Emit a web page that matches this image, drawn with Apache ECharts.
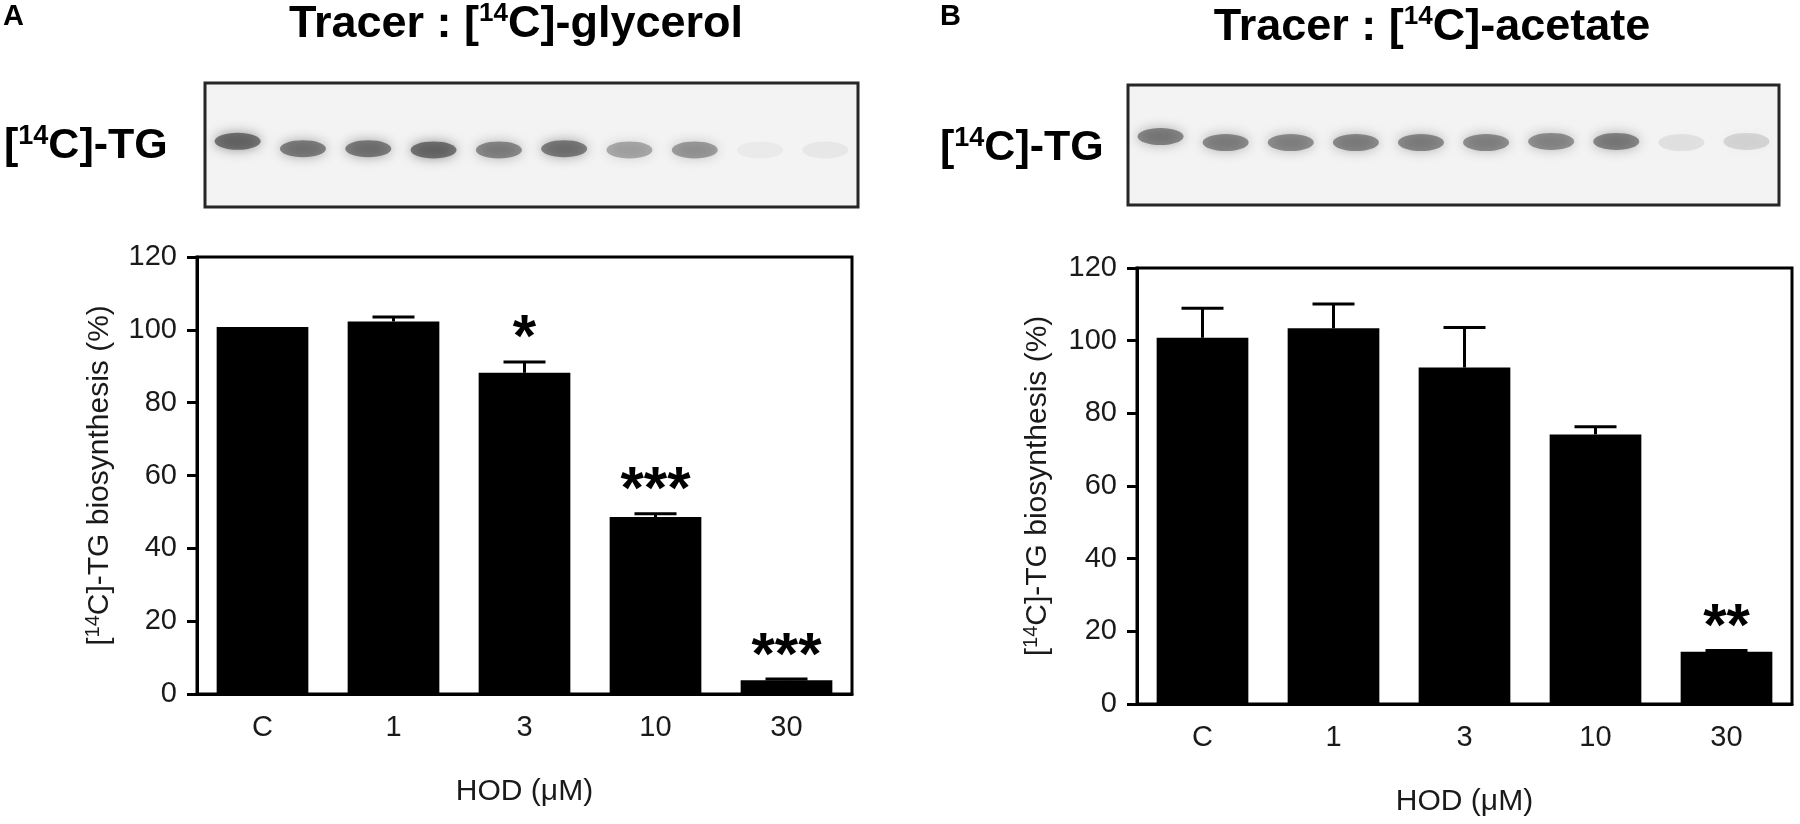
<!DOCTYPE html>
<html>
<head>
<meta charset="utf-8">
<script src="https://cdn.jsdelivr.net/npm/echarts@6/dist/echarts.min.js"></script>
<style>
  html, body { margin: 0; background: #fff; }
  #main { width: 1800px; height: 824px; }
</style>
</head>
<body>
<div id="main"></div>
<script>
// bar values (% of control)
const categories = ['C', '1', '3', '10', '30']
const glycerolMean = [100.8, 102.3, 88.2, 48.6, 3.8]
const glycerolErr = [0, 1.2, 3.0, 0.9, 0.3]
const glycerolSig = ['', '', '*', '***', '***']
const acetateMean = [100.8, 103.4, 92.6, 74.2, 14.4]
const acetateErr = [8.1, 6.7, 11.0, 2.1, 0.3]
const acetateSig = ['', '', '', '', '**']

// TLC lanes: band darkness (0-1) and migration position (0 = top of plate)
const lanes = [1, 2, 3, 4, 5, 6, 7, 8, 9, 10]
const glycerolBand = [0.8, 0.72, 0.74, 0.8, 0.66, 0.74, 0.46, 0.54, 0.06, 0.08]
const glycerolBandPos = [0.47, 0.53, 0.53, 0.54, 0.54, 0.53, 0.54, 0.54, 0.54, 0.54]
const acetateBand = [0.68, 0.66, 0.64, 0.66, 0.66, 0.64, 0.62, 0.68, 0.12, 0.2]
const acetateBandPos = [0.43, 0.48, 0.48, 0.48, 0.48, 0.48, 0.47, 0.47, 0.48, 0.47]

const FONT = 'Liberation Sans, Arial, sans-serif'

const chart = echarts.init(document.getElementById('main'))

function categoryAxis(idx) {
  return {
    gridIndex: idx,
    type: 'category',
    data: categories,
    axisLine: { lineStyle: { color: '#000', width: 3 } },
    axisTick: { alignWithLabel: true, length: 12, lineStyle: { color: '#000', width: 3 } },
    axisLabel: { fontSize: 29, color: '#1a1a1a', fontFamily: FONT, margin: 19 },
    name: 'HOD (\u03bcM)',
    nameLocation: 'middle',
    nameGap: 83,
    nameTextStyle: { fontSize: 30, color: '#1a1a1a', fontFamily: FONT },
  }
}

function valueAxis(idx, gap) {
  return {
    gridIndex: idx,
    type: 'value',
    min: 0,
    max: 120,
    interval: 20,
    splitLine: { show: false },
    axisLine: { show: true, lineStyle: { color: '#000', width: 3 } },
    axisTick: { show: true, length: 10, lineStyle: { color: '#000', width: 3 } },
    axisLabel: { fontSize: 29, color: '#1a1a1a', fontFamily: FONT, margin: 20 },
    name: '[{sup|14}C]-TG biosynthesis (%)',
    nameLocation: 'middle',
    nameGap: gap,
    nameTextStyle: {
      fontSize: 30, color: '#1a1a1a', fontFamily: FONT, lineHeight: 34,
      rich: { sup: { fontSize: 20, verticalAlign: 'top', lineHeight: 34, fontFamily: FONT } },
    },
  }
}

function errorSeries(idx, means, errs, sigs) {
  return {
    type: 'custom',
    xAxisIndex: idx,
    yAxisIndex: idx,
    z: 5,
    data: means.map((m, i) => [i, m, errs[i]]),
    renderItem(params, api) {
      const i = api.value(0)
      const base = api.coord([i, api.value(1)])
      const top = api.coord([i, api.value(1) + api.value(2)])
      const children = []
      if (api.value(2) > 0) {
        children.push({ type: 'line', shape: { x1: base[0], y1: base[1], x2: top[0], y2: top[1] }, style: { stroke: '#000', lineWidth: 3 } })
        children.push({ type: 'line', shape: { x1: top[0] - 21, y1: top[1], x2: top[0] + 21, y2: top[1] }, style: { stroke: '#000', lineWidth: 3 } })
      }
      const sig = sigs[params.dataIndex]
      if (sig) {
        children.push({
          type: 'text', x: top[0], y: top[1] - 22,
          style: { text: sig, fontSize: 60, fontWeight: 'bold', fontFamily: FONT, fill: '#000', align: 'center', verticalAlign: 'middle' },
        })
      }
      return { type: 'group', children }
    },
  }
}

function bandSeries(idx, dark, pos) {
  return {
    type: 'scatter',
    xAxisIndex: idx,
    yAxisIndex: idx,
    symbol: 'circle',
    symbolSize: [46, 17],
    silent: true,
    data: lanes.map((l, i) => ({
      value: [l - 0.5, pos[i]],
      itemStyle: {
        color: `rgba(60,60,60,${dark[i]})`,
        shadowBlur: 12,
        shadowColor: `rgba(60,60,60,${dark[i]})`,
      },
    })),
  }
}

function titleText(x, y, tracer) {
  return {
    type: 'text', x, y,
    style: {
      text: `Tracer : [{sup|14}C]-${tracer}`,
      fontSize: 45, fontWeight: 'bold', fontFamily: FONT, fill: '#000',
      align: 'center', verticalAlign: 'middle', lineHeight: 48,
      rich: { sup: { fontSize: 26, fontWeight: 'bold', fontFamily: FONT, verticalAlign: 'top', lineHeight: 48 } },
    },
  }
}

function tgLabel(x, y) {
  return {
    type: 'text', x, y,
    style: {
      text: '[{sup|14}C]-TG',
      fontSize: 43, fontWeight: 'bold', fontFamily: FONT, fill: '#000',
      align: 'left', verticalAlign: 'middle', lineHeight: 46,
      rich: { sup: { fontSize: 27, fontWeight: 'bold', fontFamily: FONT, verticalAlign: 'top', lineHeight: 46 } },
    },
  }
}

const option = {
  backgroundColor: '#fff',
  animation: false,
  grid: [
    { left: 197, right: 948, top: 257, bottom: 130, show: true, borderColor: '#000', borderWidth: 3 },
    { left: 1137, right: 8, top: 268, bottom: 120, show: true, borderColor: '#000', borderWidth: 3 },
    { left: 205, right: 942, top: 83, bottom: 617, show: true, borderColor: '#262626', borderWidth: 3, backgroundColor: '#f3f3f3' },
    { left: 1128, right: 21, top: 85, bottom: 619, show: true, borderColor: '#262626', borderWidth: 3, backgroundColor: '#f3f3f3' },
  ],
  xAxis: [
    categoryAxis(0),
    categoryAxis(1),
    { gridIndex: 2, type: 'value', min: 0, max: 10, show: false },
    { gridIndex: 3, type: 'value', min: 0, max: 10, show: false },
  ],
  yAxis: [
    valueAxis(0, 80),
    valueAxis(1, 82),
    { gridIndex: 2, type: 'value', min: 0, max: 1, inverse: true, show: false },
    { gridIndex: 3, type: 'value', min: 0, max: 1, inverse: true, show: false },
  ],
  series: [
    { type: 'bar', xAxisIndex: 0, yAxisIndex: 0, data: glycerolMean, barCategoryGap: '30%', itemStyle: { color: '#000' } },
    errorSeries(0, glycerolMean, glycerolErr, glycerolSig),
    { type: 'bar', xAxisIndex: 1, yAxisIndex: 1, data: acetateMean, barCategoryGap: '30%', itemStyle: { color: '#000' } },
    errorSeries(1, acetateMean, acetateErr, acetateSig),
    bandSeries(2, glycerolBand, glycerolBandPos),
    bandSeries(3, acetateBand, acetateBandPos),
  ],
  graphic: [
    { type: 'text', x: 3, y: 17, style: { text: 'A', fontSize: 29, fontWeight: 'bold', fontFamily: FONT, fill: '#000', verticalAlign: 'middle' } },
    { type: 'text', x: 940, y: 17, style: { text: 'B', fontSize: 29, fontWeight: 'bold', fontFamily: FONT, fill: '#000', verticalAlign: 'middle' } },
    titleText(516, 25, 'glycerol'),
    titleText(1432, 28, 'acetate'),
    tgLabel(4, 146),
    tgLabel(940, 148),
  ],
}

chart.setOption(option)
</script>
</body>
</html>
